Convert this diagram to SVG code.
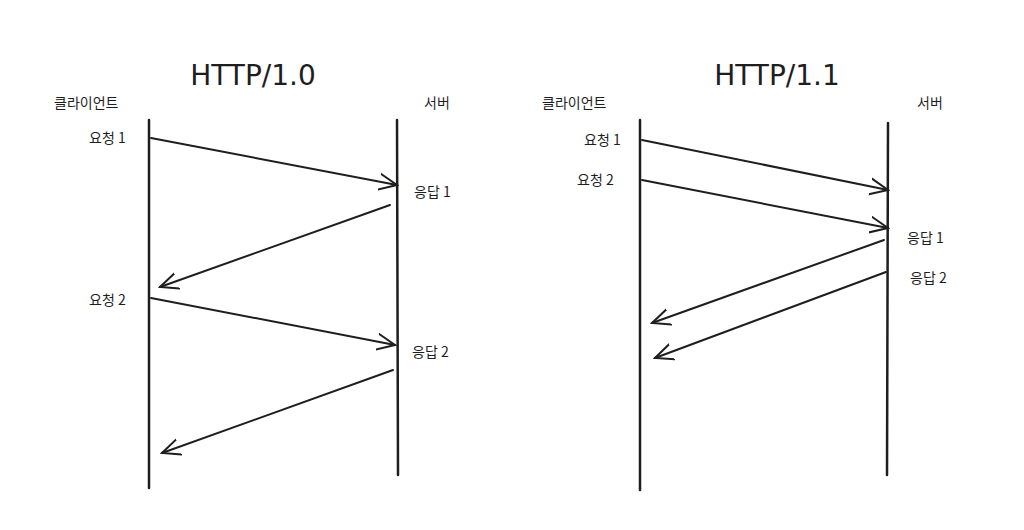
<svg xmlns="http://www.w3.org/2000/svg" width="1024" height="530" viewBox="0 0 1024 530">
<style>
.l{stroke:#1e1e1e;stroke-width:2.5;fill:none;stroke-linecap:round}
.a{stroke:#1e1e1e;stroke-width:2;fill:none;stroke-linecap:round}
.t{font-family:"Noto Sans CJK KR","Noto Sans",sans-serif;font-size:14px;fill:#1e1e1e}
.h{font-family:"DejaVu Sans","Noto Sans",sans-serif;font-size:28px;fill:#1e1e1e;text-anchor:middle}
</style>
<defs><marker id="m" viewBox="0 0 20 20" refX="18" refY="10" markerWidth="20" markerHeight="20" markerUnits="userSpaceOnUse" orient="auto"><path d="M0,2 L18,10 L0,18" fill="none" stroke="#1e1e1e" stroke-width="2" stroke-linecap="round"/></marker></defs>
<g id="left">
<text class="h" x="253" y="85">HTTP/1.0</text>
<text class="t" x="54" y="108">클라이언트</text>
<text class="t" x="424" y="108">서버</text>
<line class="l" x1="149" y1="120" x2="149" y2="488"/>
<line class="l" x1="397" y1="120" x2="398" y2="475"/>
<text class="t" x="89" y="143">요청 1</text>
<text class="t" x="414" y="197">응답 1</text>
<text class="t" x="89" y="305">요청 2</text>
<text class="t" x="412" y="357">응답 2</text>
</g>
<g id="right">
<text class="h" x="777" y="85">HTTP/1.1</text>
<text class="t" x="542" y="108">클라이언트</text>
<text class="t" x="917" y="108">서버</text>
<line class="l" x1="640" y1="120" x2="640" y2="490"/>
<line class="l" x1="888" y1="123" x2="887" y2="475"/>
<text class="t" x="584" y="145">요청 1</text>
<text class="t" x="577" y="185">요청 2</text>
<text class="t" x="907" y="243">응답 1</text>
<text class="t" x="910" y="283">응답 2</text>
</g>
<g id="connectors">
<line class="a" x1="151" y1="138" x2="397" y2="185" marker-end="url(#m)"/>
<line class="a" x1="390" y1="205" x2="160" y2="287" marker-end="url(#m)"/>
<line class="a" x1="151" y1="298" x2="395" y2="345" marker-end="url(#m)"/>
<line class="a" x1="393" y1="370" x2="162" y2="453" marker-end="url(#m)"/>
<line class="a" x1="642" y1="140" x2="888" y2="190" marker-end="url(#m)"/>
<line class="a" x1="642" y1="180" x2="888" y2="228" marker-end="url(#m)"/>
<line class="a" x1="884" y1="240" x2="652" y2="323" marker-end="url(#m)"/>
<line class="a" x1="886" y1="272" x2="655" y2="358" marker-end="url(#m)"/>
</g>
</svg>
